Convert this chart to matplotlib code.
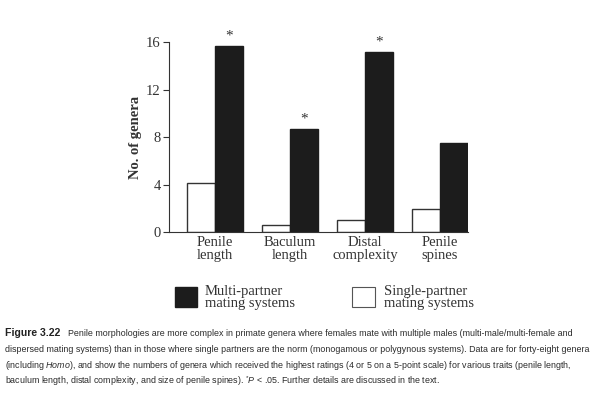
import numpy as np
import matplotlib
matplotlib.use("Agg")
import matplotlib.pyplot as plt
from matplotlib.patches import Rectangle

# values
traits = ["Penile\nlength", "Baculum\nlength", "Distal\ncomplexity", "Penile\nspines"]
single_partner = [4.1, 0.55, 1.0, 1.95]
multi_partner = [15.7, 8.7, 15.2, 7.5]
significant = [True, True, True, False]
yticks = [0, 4, 8, 12, 16]

fig_label = "Figure 3.22"
caption_lines = [
    "Penile morphologies are more complex in primate genera where females mate with multiple males (multi-male/multi-female and",
    "dispersed mating systems) than in those where single partners are the norm (monogamous or polygynous systems). Data are for forty-eight genera",
    r"(including $\mathit{Homo}$), and show the numbers of genera which received the highest ratings (4 or 5 on a 5-point scale) for various traits (penile length,",
    r"baculum length, distal complexity, and size of penile spines). $^{*}\mathit{P}$ < .05. Further details are discussed in the text.",
]

serif = ["Liberation Serif", "DejaVu Serif"]
cap_font = ["Liberation Sans", "DejaVu Sans"]
plt.rcParams["mathtext.fontset"] = "custom"
plt.rcParams["mathtext.rm"] = "Liberation Sans"
plt.rcParams["mathtext.it"] = "Liberation Sans:italic"
plt.rcParams["mathtext.bf"] = "Liberation Sans:bold"

fig = plt.figure(figsize=(5.97, 3.97), dpi=100)
ax = fig.add_axes([0.283, 0.4156, 0.5014, 0.4786])

x = np.arange(len(traits))
w = 0.37
ax.bar(x - w / 2, single_partner, w, color="white", edgecolor="#333333", linewidth=1.0)
ax.bar(x + w / 2, multi_partner, w, color="#1c1c1c", edgecolor="#1c1c1c", linewidth=1.0)

for i, s in enumerate(significant):
    if s:
        ax.annotate("*", (x[i] + w / 2, multi_partner[i]), xytext=(0, 2),
                    textcoords="offset points", ha="center", va="bottom",
                    fontsize=11, family=serif, color="#333333")

ax.set_xlim(-0.613, 3.377)
ax.set_ylim(0, 16)
ax.set_yticks(yticks)
ax.set_yticklabels([str(t) for t in yticks], family=serif, fontsize=10.5, color="#333333")
ax.set_xticks(x)
ax.set_xticklabels(traits, family=serif, fontsize=10.5, color="#333333", linespacing=0.95)
ax.tick_params(axis="x", length=0, pad=3)
ax.tick_params(axis="y", length=4, width=0.8, direction="out", pad=2, color="#333333")
for side in ["top", "right"]:
    ax.spines[side].set_visible(False)
for side in ["left", "bottom"]:
    ax.spines[side].set_linewidth(0.8)
    ax.spines[side].set_color("#333333")
ax.set_ylabel("No. of genera", family=serif, fontsize=10.5, fontweight="bold",
              color="#333333", labelpad=3)

# legend boxes
fig.patches.append(Rectangle((175 / 597, 1 - 306.7 / 397), 22.5 / 597, 20 / 397,
                             transform=fig.transFigure, facecolor="#1c1c1c",
                             edgecolor="#1c1c1c", figure=fig))
fig.patches.append(Rectangle((352 / 597, 1 - 306.7 / 397), 22.5 / 597, 20 / 397,
                             transform=fig.transFigure, facecolor="white",
                             edgecolor="#555555", linewidth=0.8, figure=fig))
fig.text(205 / 597, 1 - 297 / 397, "Multi-partner\nmating systems", family=serif,
         fontsize=10.5, color="#333333", va="center", ha="left", linespacing=0.9)
fig.text(384 / 597, 1 - 297 / 397, "Single-partner\nmating systems", family=serif,
         fontsize=10.5, color="#333333", va="center", ha="left", linespacing=0.9)

# caption
fig.text(5 / 597, 1 - 333 / 397, fig_label, family=cap_font, fontsize=7.6,
         fontweight="bold", color="#222222", va="center", ha="left")
for k, line in enumerate(caption_lines):
    x0 = 68 if k == 0 else 5
    fig.text(x0 / 597, 1 - (333 + 16 * k) / 397, line, family=cap_font,
             fontsize=6.4, color="#2a2a2a", va="center", ha="left")

fig.savefig("out.png", dpi=100)
